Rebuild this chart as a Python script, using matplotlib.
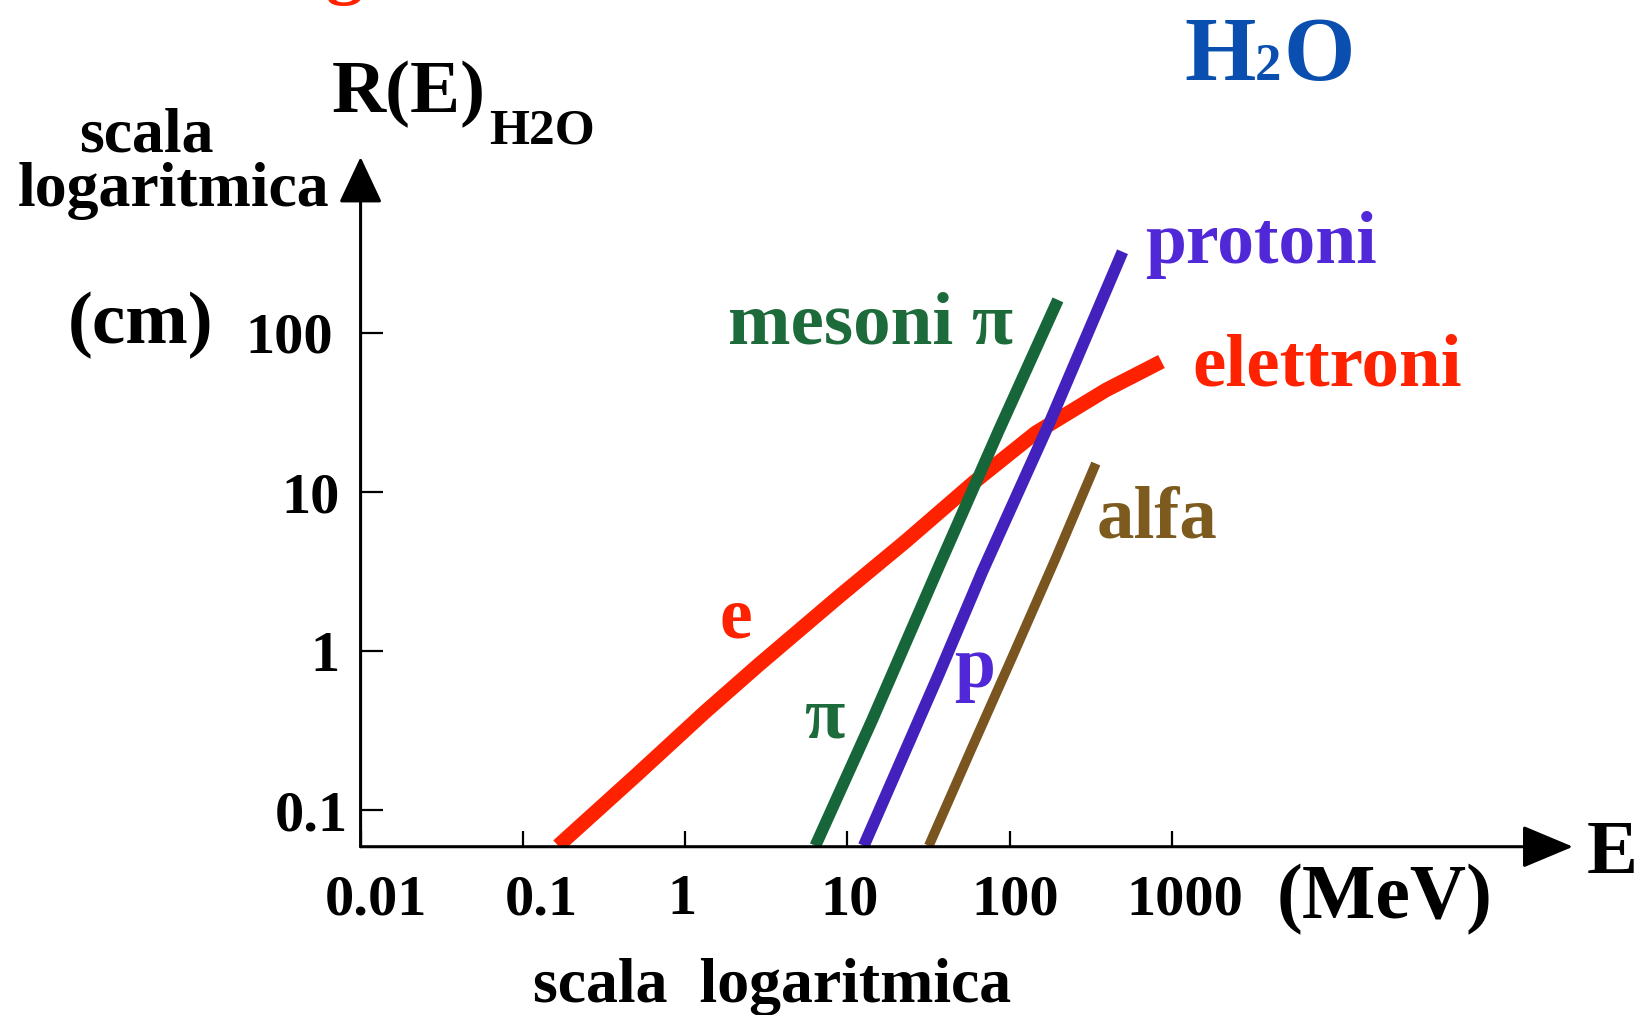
import numpy as np
import matplotlib
matplotlib.use('Agg')
import matplotlib.pyplot as plt
import matplotlib.transforms as mtransforms

plt.rcParams['font.family'] = ['Liberation Serif', 'DejaVu Serif']
plt.rcParams['font.weight'] = 'bold'

### Ranges in water (E in MeV, R in cm) ###
E_el = [0.165, 0.514, 1.33, 2.83, 8.83, 22.8, 60, 144, 391, 860]
R_el = [0.060, 0.171, 0.417, 0.82, 2.2, 4.9, 11.5, 23.5, 43.7, 66]
E_pi = [6.34, 14.2, 37, 85.8, 198]
R_pi = [0.060, 0.37, 3.5, 24.5, 161]
E_p = [12.6, 36.6, 67.6, 175, 495]
R_p = [0.060, 0.72, 3.15, 27, 323]
E_al = [31.7, 58.7, 103.6, 192, 339]
R_al = [0.060, 0.25, 0.92, 3.85, 15.1]

xticks = [0.01, 0.1, 1, 10, 100, 1000]
xticklabels = ['0.01', '0.1', '1', '10', '100', '1000']
yticks = [0.1, 1, 10, 100]
yticklabels = ['0.1', '1', '10', '100']
# small horizontal nudges of the tick labels (pixels), as in the original
xlabel_shift = [15, 18, -3, 2, 5, 13]
ylabel_shift = [15, 7, 7, 0]

c_red = '#ff2200'
c_green = '#17663a'
c_blue = '#4321bd'
c_brown = '#7a5520'

W, H = 1639, 1015
fig = plt.figure(figsize=(W/100, H/100), dpi=100)

def fx(px):
    return px/W

def fy(py):
    return 1 - py/H

ax = fig.add_axes([0.2200, 0.1658, 0.7397, 0.6795])
ax.set_xscale('log')
ax.set_yscale('log')
ax.set_xlim(0.01, 2.95e5)
ax.set_ylim(0.0592, 1271)
for s in ax.spines.values():
    s.set_visible(False)
ax.patch.set_visible(False)

ax.plot(E_el, R_el, color=c_red, lw=10.5, solid_capstyle='butt', solid_joinstyle='round', zorder=2)
ax.plot(E_pi, R_pi, color=c_green, lw=8.5, solid_capstyle='butt', solid_joinstyle='round', zorder=3)
ax.plot(E_p, R_p, color=c_blue, lw=8.5, solid_capstyle='butt', solid_joinstyle='round', zorder=3)
ax.plot(E_al, R_al, color=c_brown, lw=7, solid_capstyle='butt', solid_joinstyle='round', zorder=3)

# axes with arrow heads
ax.annotate('', xy=(1, 0), xytext=(0, 0), xycoords='axes fraction',
            arrowprops=dict(arrowstyle='-|>,head_length=1.6,head_width=0.67',
                            lw=2.2, color='k', mutation_scale=20, shrinkA=0, shrinkB=0))
ax.annotate('', xy=(0, 1), xytext=(0, 0), xycoords='axes fraction',
            arrowprops=dict(arrowstyle='-|>,head_length=1.45,head_width=0.68',
                            lw=2.2, color='k', mutation_scale=20, shrinkA=0, shrinkB=0))

ax.minorticks_off()
ax.set_xticks(xticks)
ax.set_xticklabels(xticklabels, fontsize=42, fontweight='bold')
ax.set_yticks(yticks)
ax.set_yticklabels(yticklabels, fontsize=42, fontweight='bold')
ax.tick_params(axis='x', direction='in', length=11.5, width=1.6, pad=20)
ax.tick_params(axis='y', direction='in', length=16, width=1.6, pad=20)
for lbl, dx in zip(ax.get_xticklabels(), xlabel_shift):
    lbl.set_transform(lbl.get_transform() + mtransforms.ScaledTranslation(dx/100, 0, fig.dpi_scale_trans))
for lbl, dx in zip(ax.get_yticklabels(), ylabel_shift):
    lbl.set_transform(lbl.get_transform() + mtransforms.ScaledTranslation(dx/100, 0, fig.dpi_scale_trans))

# curve labels
fig.text(fx(736), fy(637), 'e', color=c_red, fontsize=53, ha='center', va='baseline')
fig.text(fx(824), fy(737), 'π', color='#1d6b3a', fontsize=53, ha='center', va='baseline')
fig.text(fx(975), fy(687), 'p', color='#5028d8', fontsize=53, ha='center', va='baseline')
fig.text(fx(1013), fy(343), 'mesoni π', color='#1d6b3a', fontsize=54, ha='right', va='baseline')
fig.text(fx(1145), fy(263), 'protoni', color='#5028d8', fontsize=53, ha='left', va='baseline')
fig.text(fx(1192), fy(385), 'elettroni', color=c_red, fontsize=54, ha='left', va='baseline')
fig.text(fx(1097), fy(537), 'alfa', color='#7d5a1e', fontsize=54, ha='left', va='baseline')

# H2O title
fig.text(fx(1184), fy(80), 'H', color='#0a4fb0', fontsize=66, ha='left', va='baseline')
fig.text(fx(1255), fy(80), '2', color='#0a4fb0', fontsize=38, ha='left', va='baseline')
fig.text(fx(1284), fy(80), 'O', color='#0a4fb0', fontsize=66, ha='left', va='baseline')

# axis titles
fig.text(fx(332), fy(112), 'R(E)', fontsize=54, ha='left', va='baseline')
fig.text(fx(489), fy(143), 'H2O', fontsize=37, ha='left', va='baseline')
fig.text(fx(146), fy(152), 'scala', fontsize=46, ha='center', va='baseline')
fig.text(fx(174), fy(206), 'logaritmica', fontsize=46, ha='center', va='baseline')
fig.text(fx(141), fy(343), '(cm)', fontsize=54, ha='center', va='baseline')
fig.text(fx(1587), fy(873), 'E', fontsize=55, ha='left', va='baseline')
fig.text(fx(1277), fy(918), '(MeV)', fontsize=56, ha='left', va='baseline')
fig.text(fx(772), fy(1002), 'scala  logaritmica', fontsize=46, ha='center', va='baseline')

# red fragment of a cropped title at the top edge
fig.text(fx(345), fy(-10), 'g', color=c_red, fontsize=54, ha='center', va='baseline')

fig.savefig('out.png', dpi=100)
